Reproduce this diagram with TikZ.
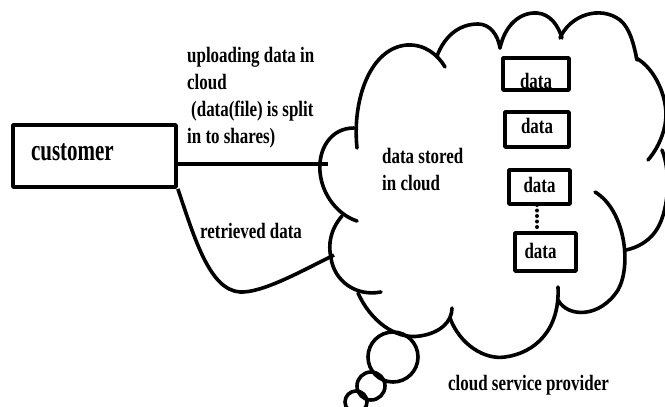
\documentclass[tikz,border=0pt]{standalone}
\usepackage{fontspec}
\setmainfont{Liberation Serif}
\newfontfamily\lblf{Liberation Serif}[FakeStretch=0.77]
\newfontfamily\custf{Liberation Serif}[FakeStretch=0.70]
\tikzset{
  lbl/.style={font=\lblf\bfseries\fontsize{22}{27}\selectfont, inner sep=0pt, align=left},
  cloudline/.style={line width=3.6pt, line cap=round},
  conn/.style={line width=3.6pt},
  databox/.style={draw, line width=3.6pt, inner sep=0pt, anchor=base,
    font=\lblf\bfseries\fontsize{22}{27}\selectfont},
  custbox/.style={draw, line width=3.8pt, inner xsep=18pt, inner ysep=0pt,
    text width=127pt, align=left, anchor=base,
    font=\custf\bfseries\fontsize{30}{36}\selectfont}
}
\begin{document}
\begin{tikzpicture}[x=1pt,y=-1pt,line join=round]
\useasboundingbox (0,0) rectangle (665,407);
\clip (0,0) rectangle (665,407);

% cloud outline (hand drawn bumps)
\draw[cloudline] (354,128) .. controls (330,128) and (318,150) .. (320,172) .. controls (322,195) and (338,215) .. (357,221);
\draw[cloudline] (342,216) .. controls (330,230) and (328,245) .. (331,258) .. controls (334,280) and (355,297) .. (381,292);
\draw[cloudline] (358,293) .. controls (370,320) and (395,340) .. (420,336) .. controls (440,333) and (452,322) .. (452,308);
\draw[cloudline] (450,318) .. controls (460,345) and (485,360) .. (505,357) .. controls (535,353) and (560,330) .. (558,287);
\draw[cloudline] (558,300) .. controls (568,318) and (600,318) .. (618,290) .. controls (632,265) and (625,210) .. (595,192);
\draw[cloudline] (662,150) .. controls (672,175) and (668,215) .. (655,232) .. controls (648,242) and (636,248) .. (626,250);
\draw[cloudline] (636,58) .. controls (655,68) and (670,100) .. (665,125) .. controls (662,140) and (655,152) .. (648,160);
\draw[cloudline] (560,38) .. controls (570,15) and (600,5) .. (620,20) .. controls (630,28) and (634,45) .. (637,60);
\draw[cloudline] (500,48) .. controls (505,25) and (520,12) .. (537,13) .. controls (550,14) and (558,25) .. (562,38);
\draw[cloudline] (437,56) .. controls (445,35) and (460,24) .. (478,24) .. controls (490,24) and (498,35) .. (500,48);
\draw[cloudline] (357,148) .. controls (352,100) and (370,48) .. (407,45) .. controls (425,44) and (438,55) .. (445,67);

% thought bubbles
\draw[cloudline] (393,357) circle[radius=25pt];
\draw[cloudline] (371,386) circle[radius=14pt];
\draw[cloudline] (356,402) circle[radius=11pt];

% customer
\node[custbox, text height=35pt, text depth=27pt] (cust) at (94.5,160) {customer};

% data boxes
\node[databox, minimum width=66pt, text height=30pt, text depth=2pt] (b1) at (536,88) {data};
\node[databox, minimum width=64pt, text height=21pt, text depth=14pt] (b2) at (537,133) {data};
\node[databox, minimum width=61pt, text height=22pt, text depth=12pt] (b3) at (539.5,192) {data};
\node[databox, minimum width=61pt, text height=25pt, text depth=13pt] (b4) at (545.5,258) {data\kern10pt};
\coordinate (dtop) at (537,205);
\draw[line width=4pt, dash pattern=on 0pt off 5.5pt, line cap=round] (dtop) -- (dtop |- b4.north);

% labels (anchor = baseline of last line)
\node[lbl, anchor=base west] (upl) at (187,143) {uploading data in\\cloud\\\hspace*{4pt}(data(file) is split\\in to shares)};
\node[lbl, anchor=base west] (stored) at (382,190) {data stored\\in cloud};
\node[lbl, anchor=base west] (retr) at (200,238) {retrieved data};
\node[lbl, anchor=base west] (csp) at (448,390) {cloud service provider};

% connectors
\coordinate (upend) at (328,164);
\draw[conn] (cust.east |- upend) -- (upend);
\coordinate (retend) at (334,255);
\draw[conn] (cust.south east) .. controls (195,240) and (210,290) .. (240,292) .. controls (262,293) and (300,272) .. (retend);
\end{tikzpicture}
\end{document}
